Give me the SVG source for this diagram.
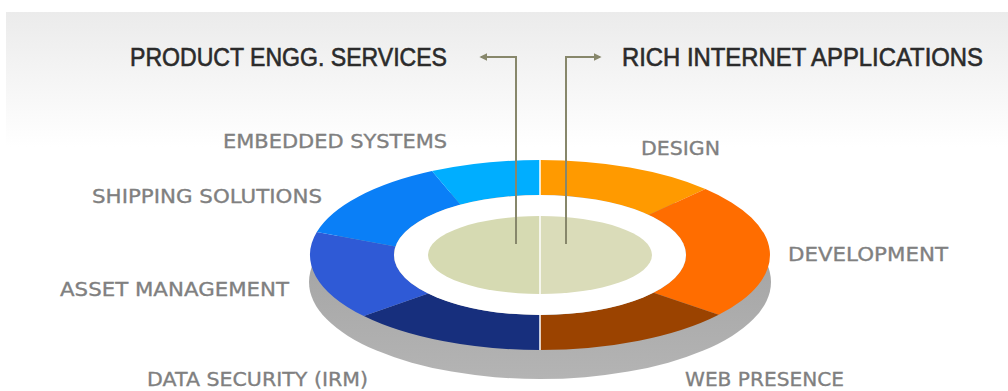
<svg xmlns="http://www.w3.org/2000/svg" width="1008" height="391" viewBox="0 0 1008 391">
<defs>
<linearGradient id="bg" x1="0" y1="0" x2="0" y2="1">
<stop offset="0" stop-color="#ebebeb"/>
<stop offset="1" stop-color="#ffffff"/>
</linearGradient>
<linearGradient id="base" x1="0" y1="0" x2="0" y2="1">
<stop offset="0" stop-color="#9c9c9c"/>
<stop offset="1" stop-color="#b4b4b4"/>
</linearGradient>
<marker id="arr" viewBox="0 0 10 10" refX="8" refY="5" markerWidth="4" markerHeight="4" orient="auto">
<path d="M0 0 L10 5 L0 10 Z" fill="#87876b"/>
</marker>
<style>
.lbl{font-family:"DejaVu Sans","Liberation Sans",sans-serif;font-size:20px;fill:#808080;stroke:#808080;stroke-width:0.35;}
.ttl{font-family:"Liberation Sans",Arial,sans-serif;font-size:25px;fill:#2b2b2b;stroke:#2b2b2b;stroke-width:0.6;}
.con{fill:none;stroke:#87876b;stroke-width:2;}
.sep{stroke:#ffffff;stroke-width:1.5;}
</style>
</defs>
<rect width="1008" height="391" fill="#ffffff"/>
<rect x="6" y="12" width="1002" height="135" fill="url(#bg)"/>

<g id="titles">
<text id="product-engg" class="ttl" x="130" y="66" textLength="317" lengthAdjust="spacingAndGlyphs">PRODUCT ENGG. SERVICES</text>
<text id="rich-internet" class="ttl" x="622" y="66" textLength="361" lengthAdjust="spacingAndGlyphs">RICH INTERNET APPLICATIONS</text>
</g>

<g id="donut">
<ellipse id="base-shadow" cx="540" cy="282" rx="231" ry="97" fill="url(#base)"/>
<g id="seg-design"><path d="M540 160 A230 95 0 0 1 705.4 189 L648.5 214.9 A146 60 0 0 0 540 195 Z" fill="#ff9a00"/></g>
<g id="seg-development"><path d="M705.4 189 A230 95 0 0 1 718.7 314.8 L653.5 292.8 A146 60 0 0 0 648.5 214.9 Z" fill="#ff6d00"/></g>
<g id="seg-web-presence"><path d="M718.7 314.8 A230 95 0 0 1 540 350 L540 315 A146 60 0 0 0 653.5 292.8 Z" fill="#9b4300"/></g>
<g id="seg-data-security"><path d="M540 350 A230 95 0 0 1 363.8 316.1 L428.2 293.6 A146 60 0 0 0 540 315 Z" fill="#172f7d"/></g>
<g id="seg-asset"><path d="M363.8 316.1 A230 95 0 0 1 316.8 232 L395.4 246.6 A146 60 0 0 0 428.2 293.6 Z" fill="#2f5ad6"/></g>
<g id="seg-shipping"><path d="M316.8 232 A230 95 0 0 1 432 171.1 L460.5 204.7 A146 60 0 0 0 395.4 246.6 Z" fill="#0a7ff7"/></g>
<g id="seg-embedded"><path d="M432 171.1 A230 95 0 0 1 540 160 L540 195 A146 60 0 0 0 460.5 204.7 Z" fill="#00aeff"/></g>
<ellipse id="hole" cx="540" cy="255" rx="146" ry="60" fill="#ffffff"/>
<g id="center">
<path d="M540 216 A112 39 0 0 0 540 294 Z" fill="#d6dab2"/>
<path d="M540 216 A112 39 0 0 1 540 294 Z" fill="#dadcb9"/>
</g>
<line class="sep" x1="540" y1="160" x2="540" y2="195"/>
<line class="sep" x1="540" y1="315" x2="540" y2="350"/>
<line class="sep" x1="540" y1="216" x2="540" y2="294"/>
</g>

<g id="connectors">
<path class="con" d="M516 244 V57 H481" marker-end="url(#arr)"/>
<path class="con" d="M566 244 V57 H600" marker-end="url(#arr)"/>
</g>

<g id="labels">
<text id="lbl-embedded" class="lbl" x="223" y="148" textLength="224" lengthAdjust="spacingAndGlyphs">EMBEDDED SYSTEMS</text>
<text id="lbl-shipping" class="lbl" x="92" y="203" textLength="230" lengthAdjust="spacingAndGlyphs">SHIPPING SOLUTIONS</text>
<text id="lbl-asset" class="lbl" x="60" y="296" textLength="229" lengthAdjust="spacingAndGlyphs">ASSET MANAGEMENT</text>
<text id="lbl-data" class="lbl" x="147" y="386" textLength="221" lengthAdjust="spacingAndGlyphs">DATA SECURITY (IRM)</text>
<text id="lbl-design" class="lbl" x="641" y="155" textLength="79" lengthAdjust="spacingAndGlyphs">DESIGN</text>
<text id="lbl-development" class="lbl" x="788" y="261" textLength="160" lengthAdjust="spacingAndGlyphs">DEVELOPMENT</text>
<text id="lbl-web" class="lbl" x="685" y="386" textLength="159" lengthAdjust="spacingAndGlyphs">WEB PRESENCE</text>
</g>
</svg>
